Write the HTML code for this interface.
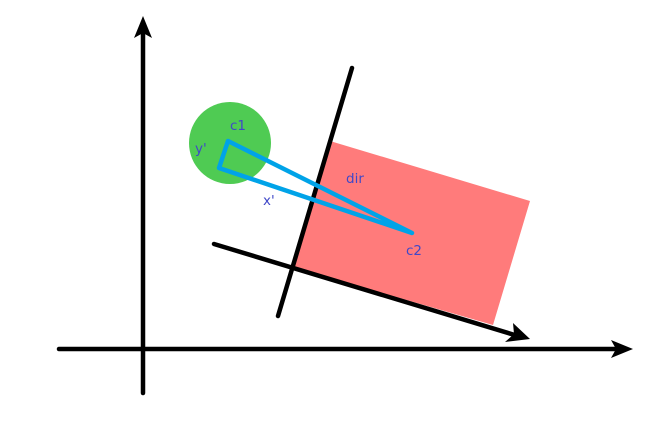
<!DOCTYPE html>
<html><head><meta charset="utf-8"><style>
html,body{margin:0;padding:0;background:#fff;width:658px;height:429px;overflow:hidden}
text{font-family:"DejaVu Sans","Liberation Sans",sans-serif;font-size:13.5px;fill:#4048c8}
</style></head><body>
<svg width="658" height="429" viewBox="0 0 658 429">
<polygon points="330,141 530,201 493,325 292,267" fill="#ff7b7b"/>
<circle cx="230" cy="143" r="41" fill="#4fcb53"/>
<g stroke="#000" stroke-width="4.5" stroke-linecap="round" fill="none">
<line x1="143" y1="393" x2="143" y2="28"/>
<line x1="59" y1="349" x2="620" y2="349"/>
<line x1="352" y1="68" x2="278" y2="316"/>
<line x1="214" y1="244" x2="518" y2="336"/>
</g>
<polygon points="143,16 134,38 143,33 152,38" fill="#000"/>
<polygon points="633,349 611,340 616,349 611,358" fill="#000"/>
<polygon points="530,339 513,323 514,334 505,342" fill="#000"/>
<polygon points="228,141 219,168 412,233" fill="none" stroke="#00a3e8" stroke-width="4.5" stroke-linejoin="round"/>
<text x="230" y="130">c1</text>
<text x="195" y="153">y'</text>
<text x="346" y="183">dir</text>
<text x="263" y="205">x'</text>
<text x="406" y="255">c2</text>
</svg>
</body></html>
